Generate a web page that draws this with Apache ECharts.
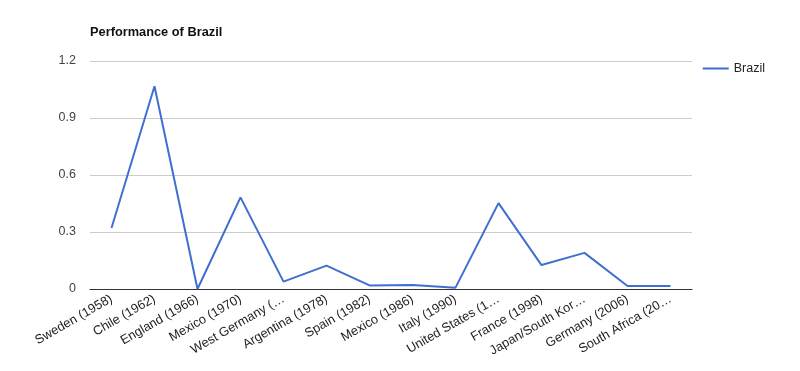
<!DOCTYPE html>
<html><head><meta charset="utf-8">
<script src="https://cdn.jsdelivr.net/npm/echarts@6/dist/echarts.min.js"></script>
<style>html,body{margin:0;padding:0;background:#fff}#c{width:800px;height:371px}</style>
</head><body><div id="c"></div>
<script>
var categories = ["Sweden (1958)","Chile (1962)","England (1966)","Mexico (1970)","West Germany (1974)","Argentina (1978)","Spain (1982)","Mexico (1986)","Italy (1990)","United States (1994)","France (1998)","Japan/South Korea (2002)","Germany (2006)","South Africa (2010)"];
var tickLabels = ["Sweden (1958)","Chile (1962)","England (1966)","Mexico (1970)","West Germany (…","Argentina (1978)","Spain (1982)","Mexico (1986)","Italy (1990)","United States (1…","France (1998)","Japan/South Kor…","Germany (2006)","South Africa (20…"];
var brazil = [0.321,1.067,0.0,0.482,0.039,0.123,0.019,0.021,0.007,0.452,0.126,0.19,0.016,0.016];
var yTicks = [0,0.3,0.6,0.9,1.2];
var chart = echarts.init(document.getElementById('c'));
chart.setOption({
  animation:false,
  title:{text:'Performance of Brazil',left:85,top:21,textStyle:{fontFamily:'Liberation Sans',fontSize:12.8,fontWeight:'bold',color:'#111'}},
  legend:{right:30,top:57,orient:'vertical',icon:'rect',itemWidth:26,itemHeight:2,itemGap:5,
    textStyle:{fontFamily:'Liberation Sans',fontSize:12.5,color:'#222'},data:['Brazil']},
  grid:{left:90,right:108,top:61,bottom:82},
  xAxis:{type:'category',data:categories,boundaryGap:true,
    axisLine:{show:true,lineStyle:{color:'#333',width:1}},axisTick:{show:false},
    axisLabel:{rotate:30,margin:9,interval:0,fontFamily:'Liberation Sans',fontSize:12.8,color:'#222',
      formatter:function(v,i){return tickLabels[i];}}},
  yAxis:{type:'value',min:yTicks[0],max:yTicks[yTicks.length-1],interval:0.3,
    axisLine:{show:false},axisTick:{show:false},
    splitLine:{lineStyle:{color:'#ccc',width:1}},
    axisLabel:{margin:14,fontFamily:'Liberation Sans',fontSize:12.5,color:'#444',formatter:function(v){return String(Math.round(v*10)/10);}}},
  series:[{name:'Brazil',type:'line',data:brazil,symbol:'none',lineStyle:{color:'#3f6fd1',width:2},itemStyle:{color:'#3f6fd1'}}]
});
</script></body></html>
